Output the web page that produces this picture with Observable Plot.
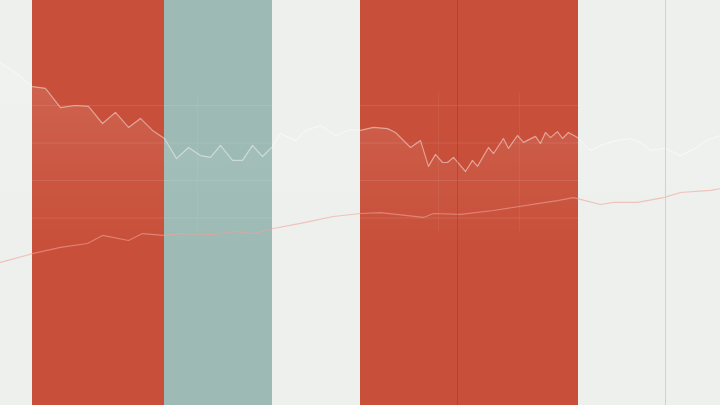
<!DOCTYPE html>
<html>
<head>
<meta charset="utf-8">
<script src="https://cdn.jsdelivr.net/npm/d3@7"></script>
<script src="https://cdn.jsdelivr.net/npm/@observablehq/plot@0.6"></script>
<style>
  html, body { margin: 0; padding: 0; background: #eef0ed; overflow: hidden; }
  #chart svg { display: block; }
</style>
</head>
<body>
<div id="chart"></div>
<script>
// Band periods (x in time steps)
const bandStart = [3.2, 16.4, 36];
const bandEnd   = [16.4, 27.2, 57.8];
const bandKind  = ["warm", "cool", "warm"];

// Upper series (white line with soft area)
const upperX = [0, 1.5, 3.2, 4.5, 6, 7.5, 8.8, 10.2, 11.5, 12.8, 14, 15.2, 16.4, 17.6, 18.8, 20, 21, 22, 23.2, 24.2, 25.2, 26.2, 27.2, 28, 29.5, 30.5, 32, 33.5, 35, 36, 37.3, 38.7, 39.5, 41, 42, 42.8, 43.5, 44.2, 44.7, 45.3, 46.5, 47.2, 47.7, 48.8, 49.3, 50.3, 50.8, 51.7, 52.3, 53.5, 54, 54.5, 55, 55.7, 56.2, 56.8, 57.7, 59, 60, 61.5, 63, 64, 65, 66.5, 68, 69.5, 70.5, 72];
const upperV = [114.3, 111, 106.3, 105.7, 99.3, 100, 99.7, 94, 97.7, 92.7, 95.7, 91.7, 89, 82.3, 86, 83.3, 82.7, 86.7, 81.7, 81.7, 86.7, 83, 86.3, 90.7, 88.3, 91.7, 93.3, 90, 92, 91.7, 92.7, 92.3, 91, 86, 88.3, 79.7, 83.7, 81, 81, 82.7, 78, 81.7, 79.7, 86, 84, 89, 85.7, 90, 87.7, 89.7, 87.3, 91, 89.3, 91.3, 89, 91, 89.3, 85, 86.7, 88.3, 89, 87.7, 85, 85.7, 83.3, 85.7, 88.3, 90];

// Lower series (pink line)
const lowerX = [0, 3.3, 6, 8.7, 10.2, 12.8, 14.2, 16.3, 18, 21.3, 23.3, 25.3, 27.3, 30, 33.3, 36, 38, 42.3, 43.3, 46, 49.3, 53.7, 55.7, 57.3, 58, 60, 61.3, 63.7, 66.3, 68, 71, 72];
const lowerV = [47.7, 50.7, 52.7, 54, 56.7, 55, 57.3, 56.7, 57.3, 57, 58, 57.3, 59, 60.7, 63, 64, 64.3, 62.7, 64, 63.7, 65, 67.3, 68.3, 69.3, 68.7, 67, 67.7, 67.7, 69.3, 71, 71.7, 72.3];

// Faint horizontal grid levels and marker lines
const gridLevels = [62.5, 75, 87.5, 100];
const markerX = [45.7];
const lightMarkerX = [66.5];
const crossX = [19.7, 43.8, 51.9];

const bands = bandStart.map((s, i) => ({x1: s, x2: bandEnd[i], kind: bandKind[i]}));
const upper = upperX.map((x, i) => ({x, v: upperV[i]}));
const lower = lowerX.map((x, i) => ({x, v: lowerV[i]}));

const chart = Plot.plot({
  width: 720,
  height: 405,
  margin: 0,
  style: {background: "#eef0ed"},
  x: {domain: [0, 72], axis: null},
  y: {domain: [0, 135], axis: null},
  color: {type: "ordinal", domain: ["warm", "cool"], range: ["#c84f39", "#9dbab4"]},
  marks: [
    Plot.rectX(bands, {x1: "x1", x2: "x2", y1: 0, y2: 135, fill: "kind"}),
    Plot.ruleY(gridLevels, {stroke: "#ffffff", strokeOpacity: 0.1, strokeWidth: 1}),
    Plot.ruleX(crossX, {y1: 58, y2: 104, stroke: "#ffffff", strokeOpacity: 0.06}),
    Plot.areaY(upper, {x: "x", y1: 50, y2: "v", fill: "url(#upGrad)", curve: "linear"}),
    Plot.line(upper, {x: "x", y: "v", stroke: "#ffffff", strokeOpacity: 0.45, strokeWidth: 1.2}),
    Plot.line(lower, {x: "x", y: "v", stroke: "#f2a497", strokeOpacity: 0.6, strokeWidth: 1.1}),
    Plot.ruleX(markerX, {stroke: "#8a2a1c", strokeOpacity: 0.3, strokeWidth: 1}),
    Plot.ruleX(lightMarkerX, {stroke: "#cfd3cf", strokeWidth: 1})
  ]
});

const svg = d3.select(chart);
const defs = svg.insert("defs", ":first-child");
const g = defs.append("linearGradient").attr("id", "upGrad")
  .attr("x1", 0).attr("y1", 0).attr("x2", 0).attr("y2", 1);
g.append("stop").attr("offset", "0%").attr("stop-color", "#ffffff").attr("stop-opacity", 0.13);
g.append("stop").attr("offset", "55%").attr("stop-color", "#ffffff").attr("stop-opacity", 0.05);
g.append("stop").attr("offset", "100%").attr("stop-color", "#ffffff").attr("stop-opacity", 0);

document.getElementById("chart").appendChild(chart);
</script>
</body>
</html>
